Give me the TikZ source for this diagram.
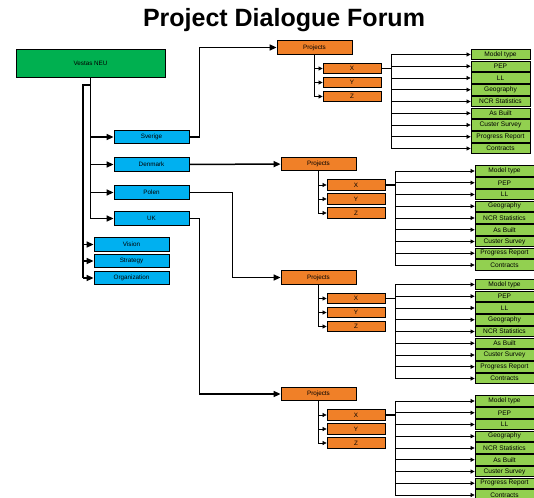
\documentclass[tikz,border=0pt]{standalone}
\usepackage{fontspec}
\setmainfont{Liberation Sans}
\usetikzlibrary{arrows.meta}
\definecolor{neugreen}{RGB}{0,176,80}
\definecolor{cntblue}{RGB}{0,176,240}
\definecolor{prjorange}{RGB}{240,128,40}
\definecolor{itmgreen}{RGB}{146,208,80}
\tikzset{
  box/.style={draw=black,line width=0.8pt,inner sep=0pt,font=\fontsize{6.3}{7}\selectfont},
  neu/.style={box,fill=neugreen,minimum width=149,minimum height=28},
  cnt/.style={box,fill=cntblue,minimum width=75,minimum height=13.5},
  prj/.style={box,fill=prjorange,minimum width=75,minimum height=13.5},
  sub/.style={box,fill=prjorange,minimum width=58,minimum height=10.5},
  itm/.style={box,fill=itmgreen,minimum width=59,minimum height=10.5,font=\fontsize{6.6}{7}\selectfont},
  big/.style={line width=1.5pt,-{Triangle[length=7pt,width=6pt]}},
  tip/.style={line width=0.7pt,-{Triangle[length=4pt,width=4pt]}}
}
% one Projects block: name, left edge, centre height
\newcommand{\prjgroup}[3]{%
  \node[prj] (#1) at (#2+37.5,#3) {Projects};
  \foreach \s [count=\k] in {X,Y,Z}
    {\node[sub] (#1s\k) at (#2+75,#3+7+14*\k) {\s};
     \draw[tip] (#1.south) |- (#1s\k);}
  \coordinate (#1b) at (#2+114,#3+21);
  \draw[line width=1.5pt] (#1s1) -- (#1b);
  \foreach \t [count=\k] in {Model type,PEP,LL,Geography,NCR Statistics,As Built,Custer Survey,Progress Report,Contracts}
    {\node[itm] (#1g\k) at (#2+223.5,#3-4.75+11.75*\k) {\t};
     \draw[tip] (#1b |- #1g\k) -- (#1g\k);}
  \draw[line width=0.8pt] (#1b |- #1g1) -- (#1b |- #1g9);
}

\begin{document}
\begin{tikzpicture}[x=1pt,y=-1pt]
  \useasboundingbox (0,0) rectangle (534,497);
  \node (title) at (284,20) {\fontsize{25}{30}\selectfont\bfseries Project Dialogue Forum};
  \node[neu] (neu) at (90.5,63) {Vestas NEU};
  \node[cnt] (sverige) at (151.5,137) {Sverige};
  \node[cnt] (denmark) at (151.5,164.5) {Denmark};
  \node[cnt] (polen) at (151.5,192.5) {Polen};
  \node[cnt] (uk) at (151.5,218.5) {UK};
  \node[cnt] (vision) at (131.5,244.5) {Vision};
  \node[cnt] (strategy) at (131.5,261) {Strategy};
  \node[cnt] (org) at (131.5,278) {Organization};
  % Vestas NEU to the countries
  \draw[line width=1.5pt] (neu.south) -- (neu.south |- uk);
  \foreach \n in {sverige,denmark,polen,uk}
    \draw[big] (neu.south |- \n) -- (\n);
  \coordinate (spine) at (83,85);
  \draw[line width=1.5pt] (neu.south |- spine) -- (spine) -- (spine |- org);
  \foreach \n in {vision,strategy,org}
    \draw[big] (spine |- \n) -- (\n);
  % the four Projects blocks
  \prjgroup{pa}{277}{47.5}
  \prjgroup{pb}{281}{164}
  \prjgroup{pc}{281}{277.5}
  \prjgroup{pd}{281}{394}
  \draw[big] (sverige.east) -- ++(10,0) |- (pa);
  \draw[big] (denmark) -- (pb);
  \draw[big] (polen.east) -- ++(43,0) |- (pc);
  \draw[big] (uk.east) -- ++(10,0) |- (pd);
\end{tikzpicture}
\end{document}
